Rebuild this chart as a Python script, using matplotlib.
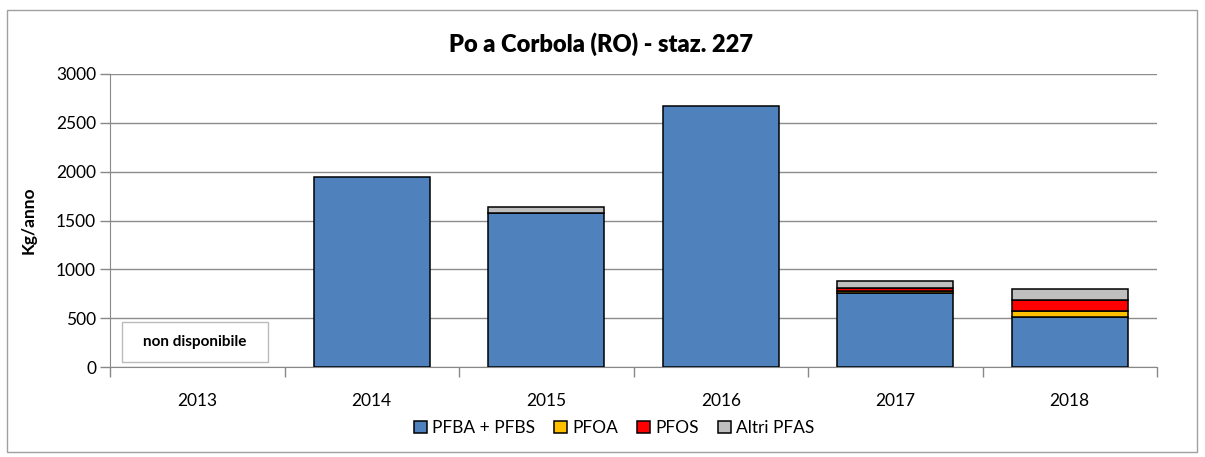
import matplotlib.pyplot as plt
from matplotlib.patches import Rectangle
import numpy as np

plt.rcParams['font.family'] = ['Lato', 'DejaVu Sans']

anni = ['2013', '2014', '2015', '2016', '2017', '2018']
pfba_pfbs = [0, 1950, 1575, 2670, 755, 510]
pfoa = [0, 0, 0, 0, 22, 62]
pfos = [0, 0, 0, 0, 30, 113]
altri = [0, 0, 62, 0, 75, 115]

serie = [(pfba_pfbs, '#4F81BD', 'PFBA + PFBS'),
         (pfoa, '#FFC000', 'PFOA'),
         (pfos, '#FF0000', 'PFOS'),
         (altri, '#BFBFBF', 'Altri PFAS')]

W, H = 1205, 457
fig = plt.figure(figsize=(W/100, H/100), dpi=100)
ax = fig.add_axes([110/W, 1-367/H, (1157-110)/W, (367-74)/H])

# outer chart border
fig.patches.append(Rectangle((7/W, 1-452/H), 1190/W, 442/H,
                             transform=fig.transFigure, fill=False,
                             edgecolor='#A0A0A0', linewidth=1))

x = np.arange(len(anni))
base = np.zeros(len(anni))
for valori, colore, nome in serie:
    v = np.array(valori, dtype=float)
    m = v > 0
    ax.bar(x[m], v[m], width=0.665, bottom=base[m], color=colore,
           edgecolor='black', linewidth=1.1, label=nome, zorder=3)
    base += v

ax.set_xlim(-0.5, len(anni) - 0.5)
ax.set_ylim(0, 3000)
ax.set_yticks(range(0, 3001, 500))
ax.set_xticks(x)
ax.set_xticklabels(anni)
ax.set_xticks(np.arange(-0.5, len(anni), 1), minor=True)
ax.tick_params(axis='x', which='major', length=0, pad=19, labelsize=12.5)
ax.tick_params(axis='x', which='minor', length=7, color='#888888', width=1)
ax.tick_params(axis='y', length=7, color='#888888', width=1, labelsize=12.5, pad=3)
ax.grid(axis='y', color='#8C8C8C', linewidth=1, zorder=0)
for s in ['top', 'right']:
    ax.spines[s].set_visible(False)
for s in ['left', 'bottom']:
    ax.spines[s].set_color('#888888')

ax.set_ylabel('Kg/anno', fontsize=12.5, fontweight='bold', labelpad=14)
fig.text(601/W, 1-44/H, 'Po a Corbola (RO) - staz. 227', ha='center',
         va='center', fontsize=17, fontweight='heavy')

# box for the missing year
fig.patches.append(Rectangle((122/W, 1-362/H), 146/W, 40/H,
                             transform=fig.transFigure, facecolor='white',
                             edgecolor='#BBBBBB', linewidth=1, zorder=5))
fig.text(195/W, 1-342/H, 'non disponibile', ha='center', va='center',
         fontsize=11, fontweight='bold', zorder=6)

fig.legend(loc='center', bbox_to_anchor=(614/W, 1-428/H), ncol=4,
           frameon=False, fontsize=12.5, handlelength=0.75, handleheight=0.75,
           handletextpad=0.3, columnspacing=1.1)

fig.savefig('out.png', dpi=100)
